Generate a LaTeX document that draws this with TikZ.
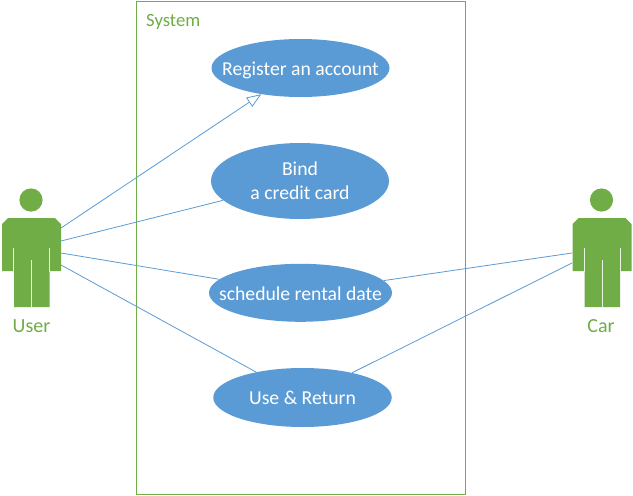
\documentclass[tikz,border=0pt]{standalone}
\usepackage{fontspec}
\setmainfont{Carlito}
\usetikzlibrary{shapes.geometric,arrows.meta}
\definecolor{ublue}{HTML}{5B9BD5}
\definecolor{ugreen}{HTML}{70AD47}
\tikzset{
  usecase/.style={ellipse,fill=ublue,draw=none,inner xsep=-24pt,inner ysep=-6pt,text=white,align=center,font=\fontsize{19.7}{24}\selectfont},
  oneline/.style={text height=18pt,text depth=3.5pt},
  assoc/.style={draw=ublue,line width=0.8pt},
  actorbody/.style={fill=ugreen,draw=none},
  actorgap/.style={draw=white!85!ugreen,line width=1pt},
  actorname/.style={text=ugreen,inner sep=0pt,font=\fontsize{20}{24}\selectfont},
  sysbox/.style={draw=ugreen,line width=0.8pt,fill=none},
  generalize/.style={-{Triangle[open,fill=white,length=14.5pt,width=11pt]}}
}
\newcommand{\actorfig}[1]{%
  \begin{scope}[shift={(#1,0)}]
    \fill[actorbody] (31,200) circle [radius=11.6];
    \fill[actorbody] (2,224) -- (8,218) -- (55,218) -- (61,224) -- (61,271) -- (49.5,271) -- (49.5,307) -- (14,307) -- (14,271) -- (2,271) -- cycle;
    \draw[actorgap] (13.5,248) -- (13.5,271.5);
    \draw[actorgap] (49.7,248) -- (49.7,271.5);
    \draw[actorgap] (31.5,260) -- (31.5,307.5);
  \end{scope}}
\begin{document}
\begin{tikzpicture}[x=1pt,y=-1pt]
\useasboundingbox (0,0) rectangle (633,496);
\fill[white] (0,0) rectangle (633,496);
\node[sysbox,minimum width=329pt,minimum height=493pt,inner sep=0pt] (sys) at (300.5,247.5) {};
\node[text=ugreen,inner sep=0pt,anchor=base west,font=\fontsize{18.7}{22}\selectfont] (systitle) at (146,26) {System};
\actorfig{0}
\actorfig{570.5}
\coordinate (u1) at (61,228);
\coordinate (u2) at (61,241);
\coordinate (u3) at (61,253);
\coordinate (u4) at (61,265);
\coordinate (c1) at (572,253);
\coordinate (c2) at (572,263);
\node[usecase,oneline,minimum width=178pt,minimum height=58pt] (reg) at (300.5,68) {Register an account};
\node[usecase,minimum width=178pt,minimum height=76pt] (bind) at (300,181) {Bind\\a credit card};
\node[usecase,oneline,minimum width=183pt,minimum height=58pt] (sched) at (300.5,292.8) {schedule rental date};
\node[usecase,oneline,minimum width=178.5pt,minimum height=59pt] (use) at (302.5,397.5) {Use \& Return};
\node[actorname] (user) at (31.5,326) {User};
\node[actorname] (car) at (601,326) {Car};
\draw[assoc,generalize] (u1) -- (reg);
\draw[assoc] (u2) -- (bind);
\draw[assoc] (u3) -- (sched);
\draw[assoc] (u4) -- (use);
\draw[assoc] (c1) -- (sched);
\draw[assoc] (c2) -- (use);
\end{tikzpicture}
\end{document}
